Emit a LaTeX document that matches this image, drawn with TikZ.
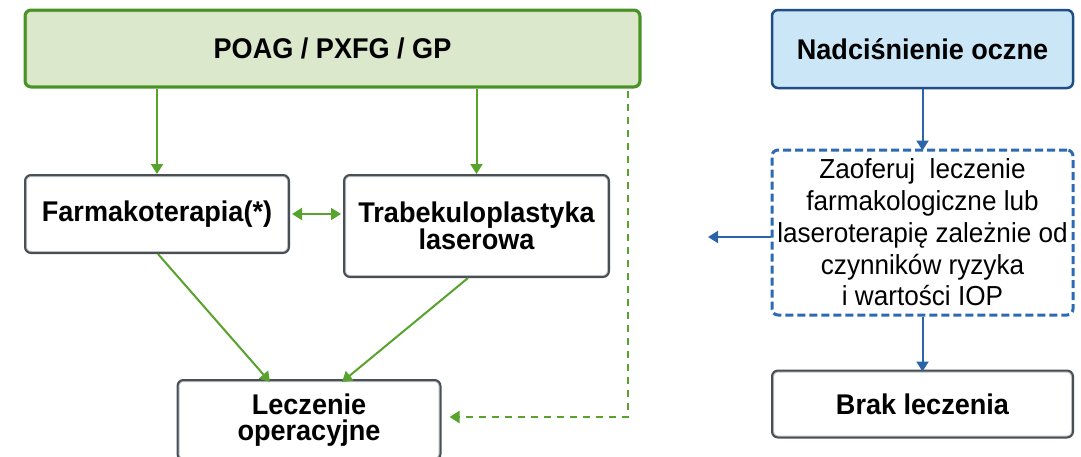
\documentclass[tikz,border=0pt]{standalone}
\usepackage{fontspec}
\setmainfont{Liberation Sans}[FakeStretch=0.95]
\usetikzlibrary{arrows.meta}

\definecolor{gline}{HTML}{58A22E}
\definecolor{gfill}{HTML}{DCE8CC}
\definecolor{gedge}{HTML}{4A9228}
\definecolor{grim}{HTML}{9CCB74}
\definecolor{boxedge}{HTML}{4A4F55}
\definecolor{boxrim}{HTML}{BAC0C6}
\definecolor{bfill}{HTML}{CBE7F7}
\definecolor{bedge}{HTML}{1F4E86}
\definecolor{bdash}{HTML}{2C6BB3}
\definecolor{bline}{HTML}{2C64AA}

\tikzset{
  rimmed/.style={path picture={\draw[#1, line width=4pt, rounded corners=6pt]
      (path picture bounding box.north west) rectangle (path picture bounding box.south east);}},
  flowbox/.style={draw=boxedge, fill=white, line width=2pt, rounded corners=6pt,
      rimmed=boxrim, align=center, inner sep=0pt,
      font=\fontsize{28.5}{26.5}\selectfont\bfseries},
  greenhead/.style={draw=gedge, fill=gfill, line width=3pt, rounded corners=6pt,
      rimmed=grim, align=center, inner sep=0pt,
      font=\fontsize{28.5}{26.5}\selectfont\bfseries},
  bluehead/.style={draw=bedge, fill=bfill, line width=2.5pt, rounded corners=6pt,
      align=center, inner sep=0pt,
      font=\fontsize{28.5}{26.5}\selectfont\bfseries},
  dashbox/.style={draw=bdash, fill=white, line width=3pt, rounded corners=6pt,
      dash pattern=on 8pt off 4pt, align=center, inner sep=0pt,
      font=\fontsize{27.5}{31.7}\selectfont},
  garrow/.style={draw=gline, line width=2pt, -{Triangle[width=12pt,length=10pt]}},
  gdouble/.style={draw=gline, line width=2pt,
      {Triangle[width=12pt,length=10pt]}-{Triangle[width=12pt,length=10pt]}},
  gdash/.style={draw=gline, line width=2.2pt, dash pattern=on 7pt off 6pt,
      -{Triangle[width=12pt,length=10pt]}},
  barrow/.style={draw=bline, line width=2pt, -{Triangle[width=12pt,length=10pt]}},
}

\begin{document}
\begin{tikzpicture}[x=1pt, y=-1pt]
  \useasboundingbox (0,0) rectangle (1081,456);
  \clip (0,0) rectangle (1081,456);

  % left-hand pathway
  \node[greenhead, minimum width=615pt, minimum height=77pt] (poag) at (332.5,48.5) {POAG / PXFG / GP};
  \node[flowbox, minimum width=264pt, minimum height=78pt] (farm) at (157,214) {Farmakoterapia(*)};
  \node[flowbox, minimum width=265pt, minimum height=102pt] (trab) at (476.5,226) {Trabekuloplastyka\\laserowa};
  \node[flowbox, minimum width=263pt, minimum height=80pt] (lecz) at (309,420) {Leczenie\\operacyjne};

  \draw[garrow] (poag.south -| farm.north) -- (farm.north);
  \draw[garrow] (poag.south -| trab.north) -- (trab.north);
  \draw[gdouble] ([xshift=2pt]farm.east) -- ([xshift=-2pt]trab.west |- farm.east);
  \draw[garrow] ([xshift=1pt]farm.south) -- ([xshift=-39pt,yshift=-3pt]lecz.north);
  \draw[garrow] ([xshift=-8.5pt]trab.south) -- ([xshift=33pt,yshift=-3pt]lecz.north);

  \coordinate (dtop) at (628,91);
  \coordinate (dturn) at (628,417);
  \draw[gdash] (dtop) |- ([xshift=8pt]lecz.east |- dturn);

  % right-hand pathway
  \node[bluehead, minimum width=301pt, minimum height=78pt] (nadc) at (922.5,49) {Nadciśnienie oczne};
  \node[dashbox, minimum width=301pt, minimum height=165pt] (zaof) at (922.5,232.5)
    {Zaoferuj\ \ leczenie\\farmakologiczne lub\\laseroterapię zależnie od\\czynników ryzyka\\i wartości IOP};
  \node[flowbox, minimum width=301pt, minimum height=67pt] (brak) at (922.5,404) {Brak leczenia};

  \coordinate (leftend) at (708,237);
  \draw[barrow] (nadc.south) -- ([yshift=-2pt]zaof.north);
  \draw[barrow] (zaof.west |- leftend) -- (leftend);
  \draw[barrow] (zaof.south) -- ([yshift=-2pt]brak.north);
\end{tikzpicture}
\end{document}
